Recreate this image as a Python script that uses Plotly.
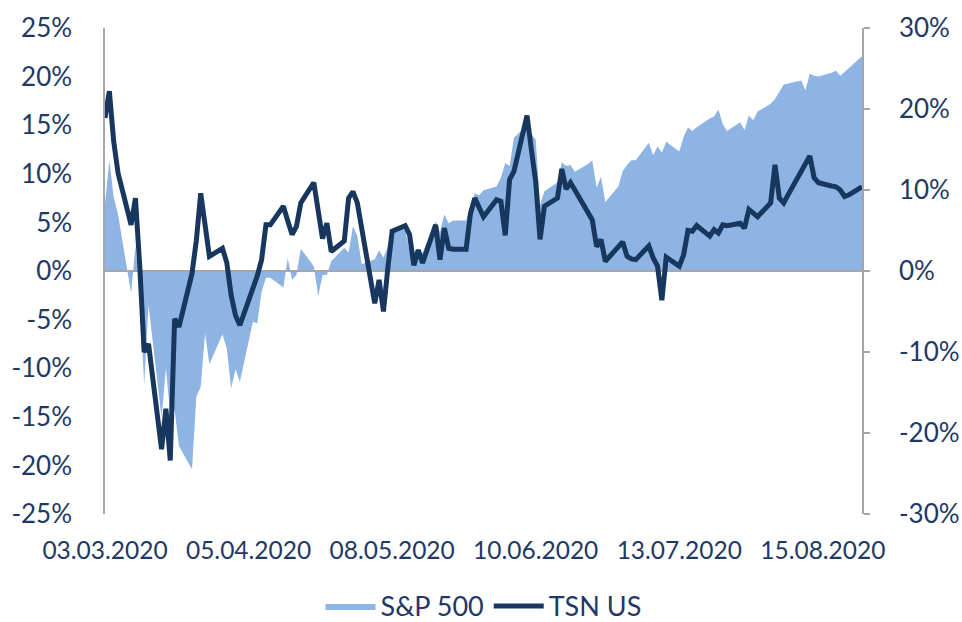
import plotly.graph_objects as go
import pandas as pd

# All weekdays 03.03.2020 - 24.08.2020 (market holidays repeat the previous value)
dates = pd.bdate_range("2020-03-03", "2020-08-24")

# S&P 500 performance (%), left axis
sp_mar = [6.9, 11.4, 7.6, 5.8, -2.3, 2.6, -2.4, -11.7, -3.5, -15.1, -10.0, -14.7, -14.3,
          -18.0, -20.4, -12.9, -11.9, -6.4, -9.6, -6.5, -8.0]
sp_apr = [-12.1, -10.1, -11.4, -5.2, -5.4, -2.1, -0.7, -0.7, -1.7, 1.3, -0.9, -0.4, 2.3,
          0.5, -2.6, -0.4, -0.4, 1.0, 2.4, 1.9, 4.6, 3.6]
sp_may = [0.7, 1.2, 2.1, 1.4, 2.5, 4.3, 4.3, 2.1, 0.4, 1.5, 1.9, 5.1, 4.0, 5.8, 4.9, 5.2,
          5.2, 6.5, 8.0, 7.8, 8.3]
sp_jun = [8.7, 9.6, 11.1, 10.8, 13.7, 15.0, 14.1, 13.5, 6.8, 8.2, 9.1, 11.2, 10.8, 10.9,
          10.2, 11.0, 11.4, 8.6, 9.7, 7.1, 8.7, 10.3]
sp_jul = [10.9, 11.4, 11.4, 13.2, 11.9, 12.8, 12.2, 13.3, 12.3, 13.8, 14.8, 14.4, 14.8,
          15.7, 15.9, 16.6, 15.1, 14.4, 15.3, 14.5, 16.0, 15.5, 16.4]
sp_aug = [17.2, 17.7, 18.4, 19.2, 19.3, 19.6, 18.6, 20.3, 20.1, 20.0, 20.4, 20.6, 20.1,
          20.5, 20.9, 22.1]

# TSN US performance (%), right axis
tsn_mar = [18.9, 22.2, 16.0, 12.1, 5.7, 9.0, 0.5, -10.0, -9.0, -22.0, -17.0, -23.4, -5.9,
           -6.9, -0.3, 3.8, 9.6, 5.7, 1.8, 2.8, 1.0]
tsn_apr = [-3.0, -5.5, -6.7, -2.3, -0.6, 1.4, 5.7, 5.7, 8.0, 6.2, 4.5, 5.5, 8.4, 10.9,
           7.3, 4.0, 5.9, 2.4, 3.7, 9.0, 9.8, 8.4]
tsn_may = [5.3, -4.0, -1.1, -5.0, 0.3, 4.9, 5.6, 4.5, 0.7, 2.6, 1.0, 5.7, 1.4, 5.3, 2.8,
           2.7, 2.7, 7.1, 9.0, 7.8, 6.7]
tsn_jun = [8.8, 8.6, 4.4, 11.3, 12.3, 19.2, 15.0, 11.0, 3.9, 8.0, 9.0, 12.6, 10.1, 10.9,
           10.0, 7.2, 6.3, 3.0, 3.9, 1.2, 3.0, 3.6]
tsn_jul = [1.8, 1.5, 1.4, 3.1, 1.6, 0.6, -3.6, 1.7, 0.6, 2.0, 5.0, 4.9, 5.6, 4.3, 5.1,
           4.7, 5.7, 5.6, 5.9, 5.3, 7.6, 7.1, 6.7]
tsn_aug = [8.4, 13.1, 9.0, 8.4, 9.4, 12.4, 13.3, 14.2, 11.5, 10.9, 10.5, 10.4, 10.0, 9.2,
           9.4, 10.4]

# Axis ticks
left_ticks = [-25, -20, -15, -10, -5, 0, 5, 10, 15, 20, 25]
right_ticks = [-30, -20, -10, 0, 10, 20, 30]

sp500 = sp_mar + sp_apr + sp_may + sp_jun + sp_jul + sp_aug
tsn = tsn_mar + tsn_apr + tsn_may + tsn_jun + tsn_jul + tsn_aug

TEXT = "#1F3864"
AXIS = "#A6A6A6"
FONT = "Lato"

fig = go.Figure()
fig.add_trace(go.Scatter(
    x=dates, y=sp500, name="S&P 500", mode="lines", fill="tozeroy",
    fillcolor="#8DB4E2", line=dict(color="#8DB4E2", width=0), yaxis="y",
))
# horizontal category axis line at 0 (drawn above the area, below the line)
fig.add_trace(go.Scatter(
    x=[dates[0], dates[-1]], y=[0, 0], mode="lines", showlegend=False,
    hoverinfo="skip", line=dict(color=AXIS, width=2), yaxis="y",
))
fig.add_trace(go.Scatter(
    x=dates, y=tsn, name="TSN US", mode="lines",
    line=dict(color="#17375E", width=5), yaxis="y2",
))

fig.update_layout(
    width=962, height=622,
    margin=dict(l=105, r=100, t=28, b=108, autoexpand=False),
    paper_bgcolor="white", plot_bgcolor="white",
    font=dict(family=FONT, size=25, color=TEXT),
    showlegend=True,
    legend=dict(orientation="h", x=0.5, xanchor="center", y=-0.19, yanchor="middle",
                font=dict(family=FONT, size=27, color=TEXT), itemwidth=50,
                traceorder="normal"),
    xaxis=dict(type="date", range=[dates[0], dates[-1]], tick0="2020-03-03",
               dtick=33 * 86400000, tickformat="%d.%m.%Y", showgrid=False,
               showline=False, zeroline=False, ticks="", ticklabelstandoff=19,
               tickfont=dict(family=FONT, size=24.5, color=TEXT)),
    yaxis=dict(range=[-25, 25], tickvals=left_ticks,
               ticktext=[f"{v}%" for v in left_ticks], showgrid=False,
               zeroline=False, showline=True, linecolor=AXIS, linewidth=1.5,
               ticks="", ticklabelstandoff=26,
               tickfont=dict(family=FONT, size=26, color=TEXT)),
    yaxis2=dict(range=[-30, 30], tickvals=right_ticks,
                ticktext=[f"{v}%" for v in right_ticks], overlaying="y",
                side="right", showgrid=False, zeroline=False, showline=True,
                linecolor=AXIS, linewidth=1.5, ticks="outside", ticklen=6,
                tickcolor=AXIS, tickwidth=1.5, ticklabelstandoff=24,
                tickfont=dict(family=FONT, size=26, color=TEXT)),
)

fig.write_html("out.html")
